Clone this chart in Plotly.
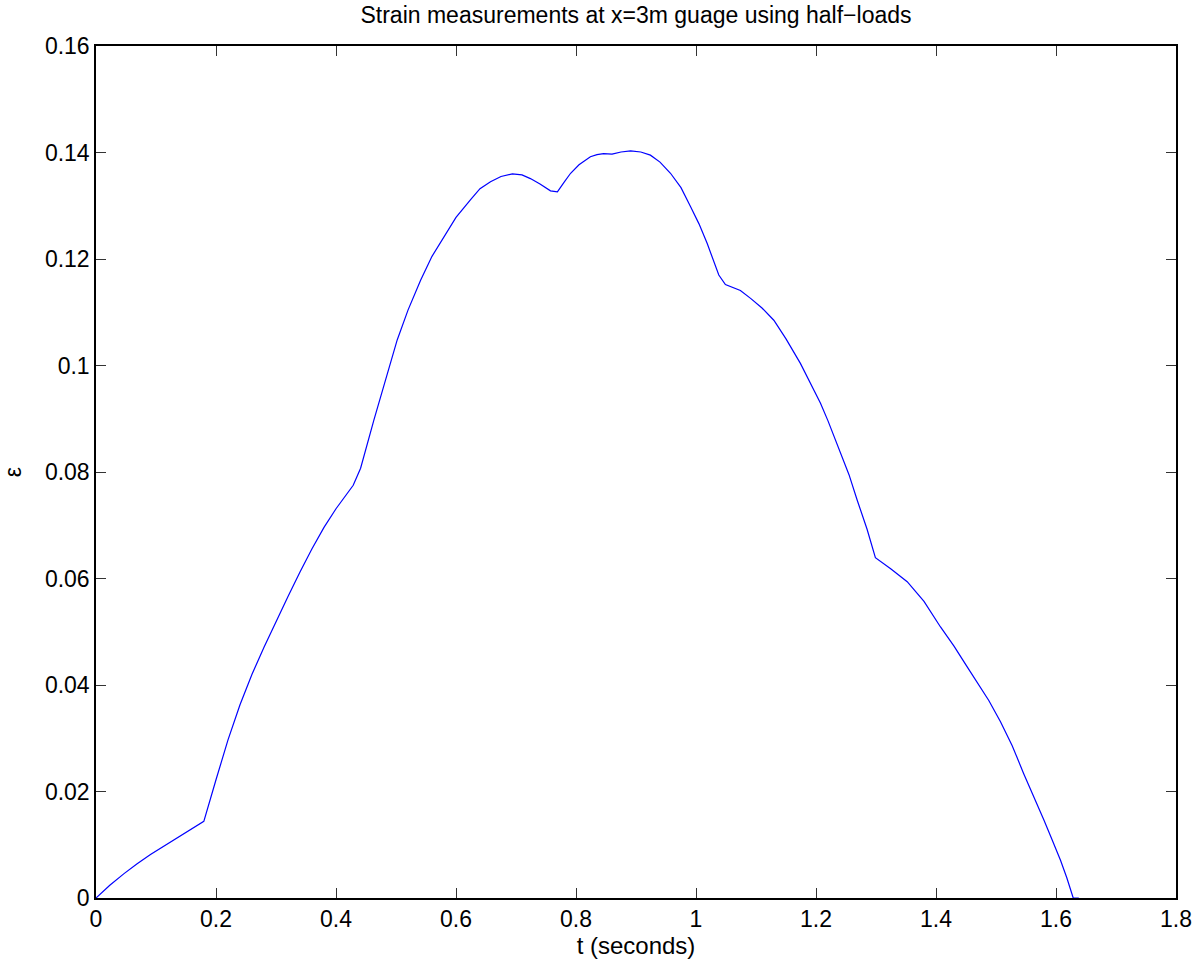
import plotly.graph_objects as go

# Time samples (s) and measured strain at the x = 3 m gauge
t = [0.0, 0.023, 0.0467, 0.068, 0.0908, 0.113, 0.135, 0.158, 0.1797,
     0.20, 0.22, 0.24, 0.26, 0.28, 0.30, 0.32, 0.34, 0.36, 0.38, 0.40, 0.4287,
     0.441, 0.463, 0.48, 0.502, 0.52, 0.541, 0.56, 0.580, 0.60, 0.624, 0.64,
     0.6575, 0.675, 0.694, 0.71, 0.724, 0.74, 0.7575, 0.769,
     0.78, 0.791, 0.805, 0.824, 0.835, 0.846, 0.860, 0.875, 0.891, 0.908,
     0.924, 0.94, 0.9575, 0.975, 0.991, 1.005, 1.0187, 1.028, 1.038, 1.049,
     1.074, 1.091, 1.11, 1.1297, 1.15, 1.174, 1.19, 1.2075, 1.22, 1.2325,
     1.241, 1.255, 1.2687, 1.285, 1.299,
     1.325, 1.352, 1.38, 1.4075, 1.43, 1.452, 1.47, 1.488, 1.5075, 1.527,
     1.546, 1.563, 1.580, 1.594, 1.6075, 1.618, 1.6287, 1.638]
strain = [0.0, 0.0024, 0.00458, 0.0064, 0.00815, 0.0097, 0.0113, 0.0128, 0.0144,
          0.0222, 0.0297, 0.0363, 0.0420, 0.0471, 0.0520, 0.0566, 0.0612, 0.0656, 0.0696, 0.0731, 0.0775,
          0.0807, 0.0897, 0.0965, 0.1048, 0.1104, 0.1160, 0.1205, 0.1242, 0.1278, 0.1311, 0.1332,
          0.1345, 0.1355, 0.1360, 0.1358, 0.1351, 0.1341, 0.1328, 0.1326,
          0.1344, 0.1361, 0.1377, 0.1392, 0.1396, 0.1398, 0.1397, 0.1401, 0.1403, 0.1401,
          0.1395, 0.1382, 0.1361, 0.1334, 0.1298, 0.1266, 0.1229, 0.1202, 0.1170, 0.1152,
          0.1141, 0.1126, 0.1108, 0.1085, 0.1050, 0.1004, 0.0969, 0.0929, 0.0896, 0.0860,
          0.0838, 0.0795, 0.0747, 0.0693, 0.0639,
          0.0618, 0.0594, 0.0557, 0.0509, 0.0473, 0.0434, 0.0403, 0.0371, 0.0331, 0.0286,
          0.0234, 0.0191, 0.0146, 0.0108, 0.0071, 0.0038, 0.0, 0.0]

x_ticks = [0, 0.2, 0.4, 0.6, 0.8, 1.0, 1.2, 1.4, 1.6, 1.8]
x_labels = ["0", "0.2", "0.4", "0.6", "0.8", "1", "1.2", "1.4", "1.6", "1.8"]
y_ticks = [0, 0.02, 0.04, 0.06, 0.08, 0.10, 0.12, 0.14, 0.16]
y_labels = ["0", "0.02", "0.04", "0.06", "0.08", "0.1", "0.12", "0.14", "0.16"]

FONT = "Liberation Sans, Arial, Helvetica, sans-serif"

fig = go.Figure(go.Scatter(x=t, y=strain, mode="lines",
                           line=dict(color="#0000ff", width=1.2),
                           showlegend=False, hoverinfo="x+y"))

axis_common = dict(showline=True, linecolor="black", linewidth=1.5, mirror="ticks",
                   ticks="inside", ticklen=10, tickcolor="#333333", tickwidth=1,
                   showgrid=False, zeroline=False, automargin=False,
                   tickfont=dict(family=FONT, size=23, color="black"))

fig.update_layout(
    width=1198, height=962,
    margin=dict(l=96, r=22, t=46, b=64),
    paper_bgcolor="white", plot_bgcolor="white",
    title=dict(text="Strain measurements at x=3m guage using half\u2212loads",
               x=0.5, xref="paper", y=1 - 15 / 962, yanchor="middle",
               font=dict(family=FONT, size=23, color="black")),
    xaxis=dict(range=[0, 1.8], tickvals=x_ticks, ticktext=x_labels,
               title=dict(text="t (seconds)", standoff=0,
                          font=dict(family=FONT, size=24, color="black")),
               **axis_common),
    yaxis=dict(range=[0, 0.16], tickvals=y_ticks, ticktext=y_labels,
               title=dict(text="\u03b5", standoff=20,
                          font=dict(family=FONT, size=23, color="black")),
               **axis_common),
)

fig.write_html("out.html")
